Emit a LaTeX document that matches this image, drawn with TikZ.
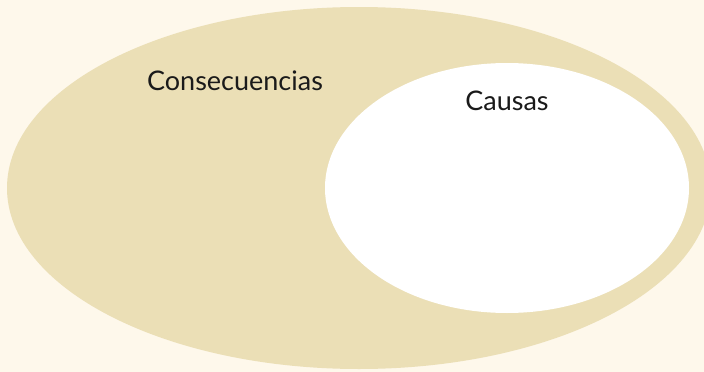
\documentclass[tikz,border=0pt]{standalone}
\usepackage{fontspec}
\setmainfont{Lato}
\definecolor{bgcol}{HTML}{FEF8EB}
\definecolor{beige}{HTML}{EBDFB6}
\definecolor{txt}{HTML}{1A1A1A}
\begin{document}
\begin{tikzpicture}[x=1pt,y=-1pt,
  lbl/.style={text=txt,font=\fontsize{27}{31}\selectfont,inner sep=0pt}]
\useasboundingbox (0,0) rectangle (704,372);
\fill[bgcol] (0,0) rectangle (704,372);
\begin{scope}
\clip (0,0) rectangle (704,372);
\fill[beige] (359,188) ellipse [x radius=352, y radius=181];
\end{scope}
\fill[white] (507,188) ellipse [x radius=182, y radius=125];
\node[lbl] (cons) at (235,81) {Consecuencias};
\node[lbl] (caus) at (507,101) {Causas};
\end{tikzpicture}
\end{document}
